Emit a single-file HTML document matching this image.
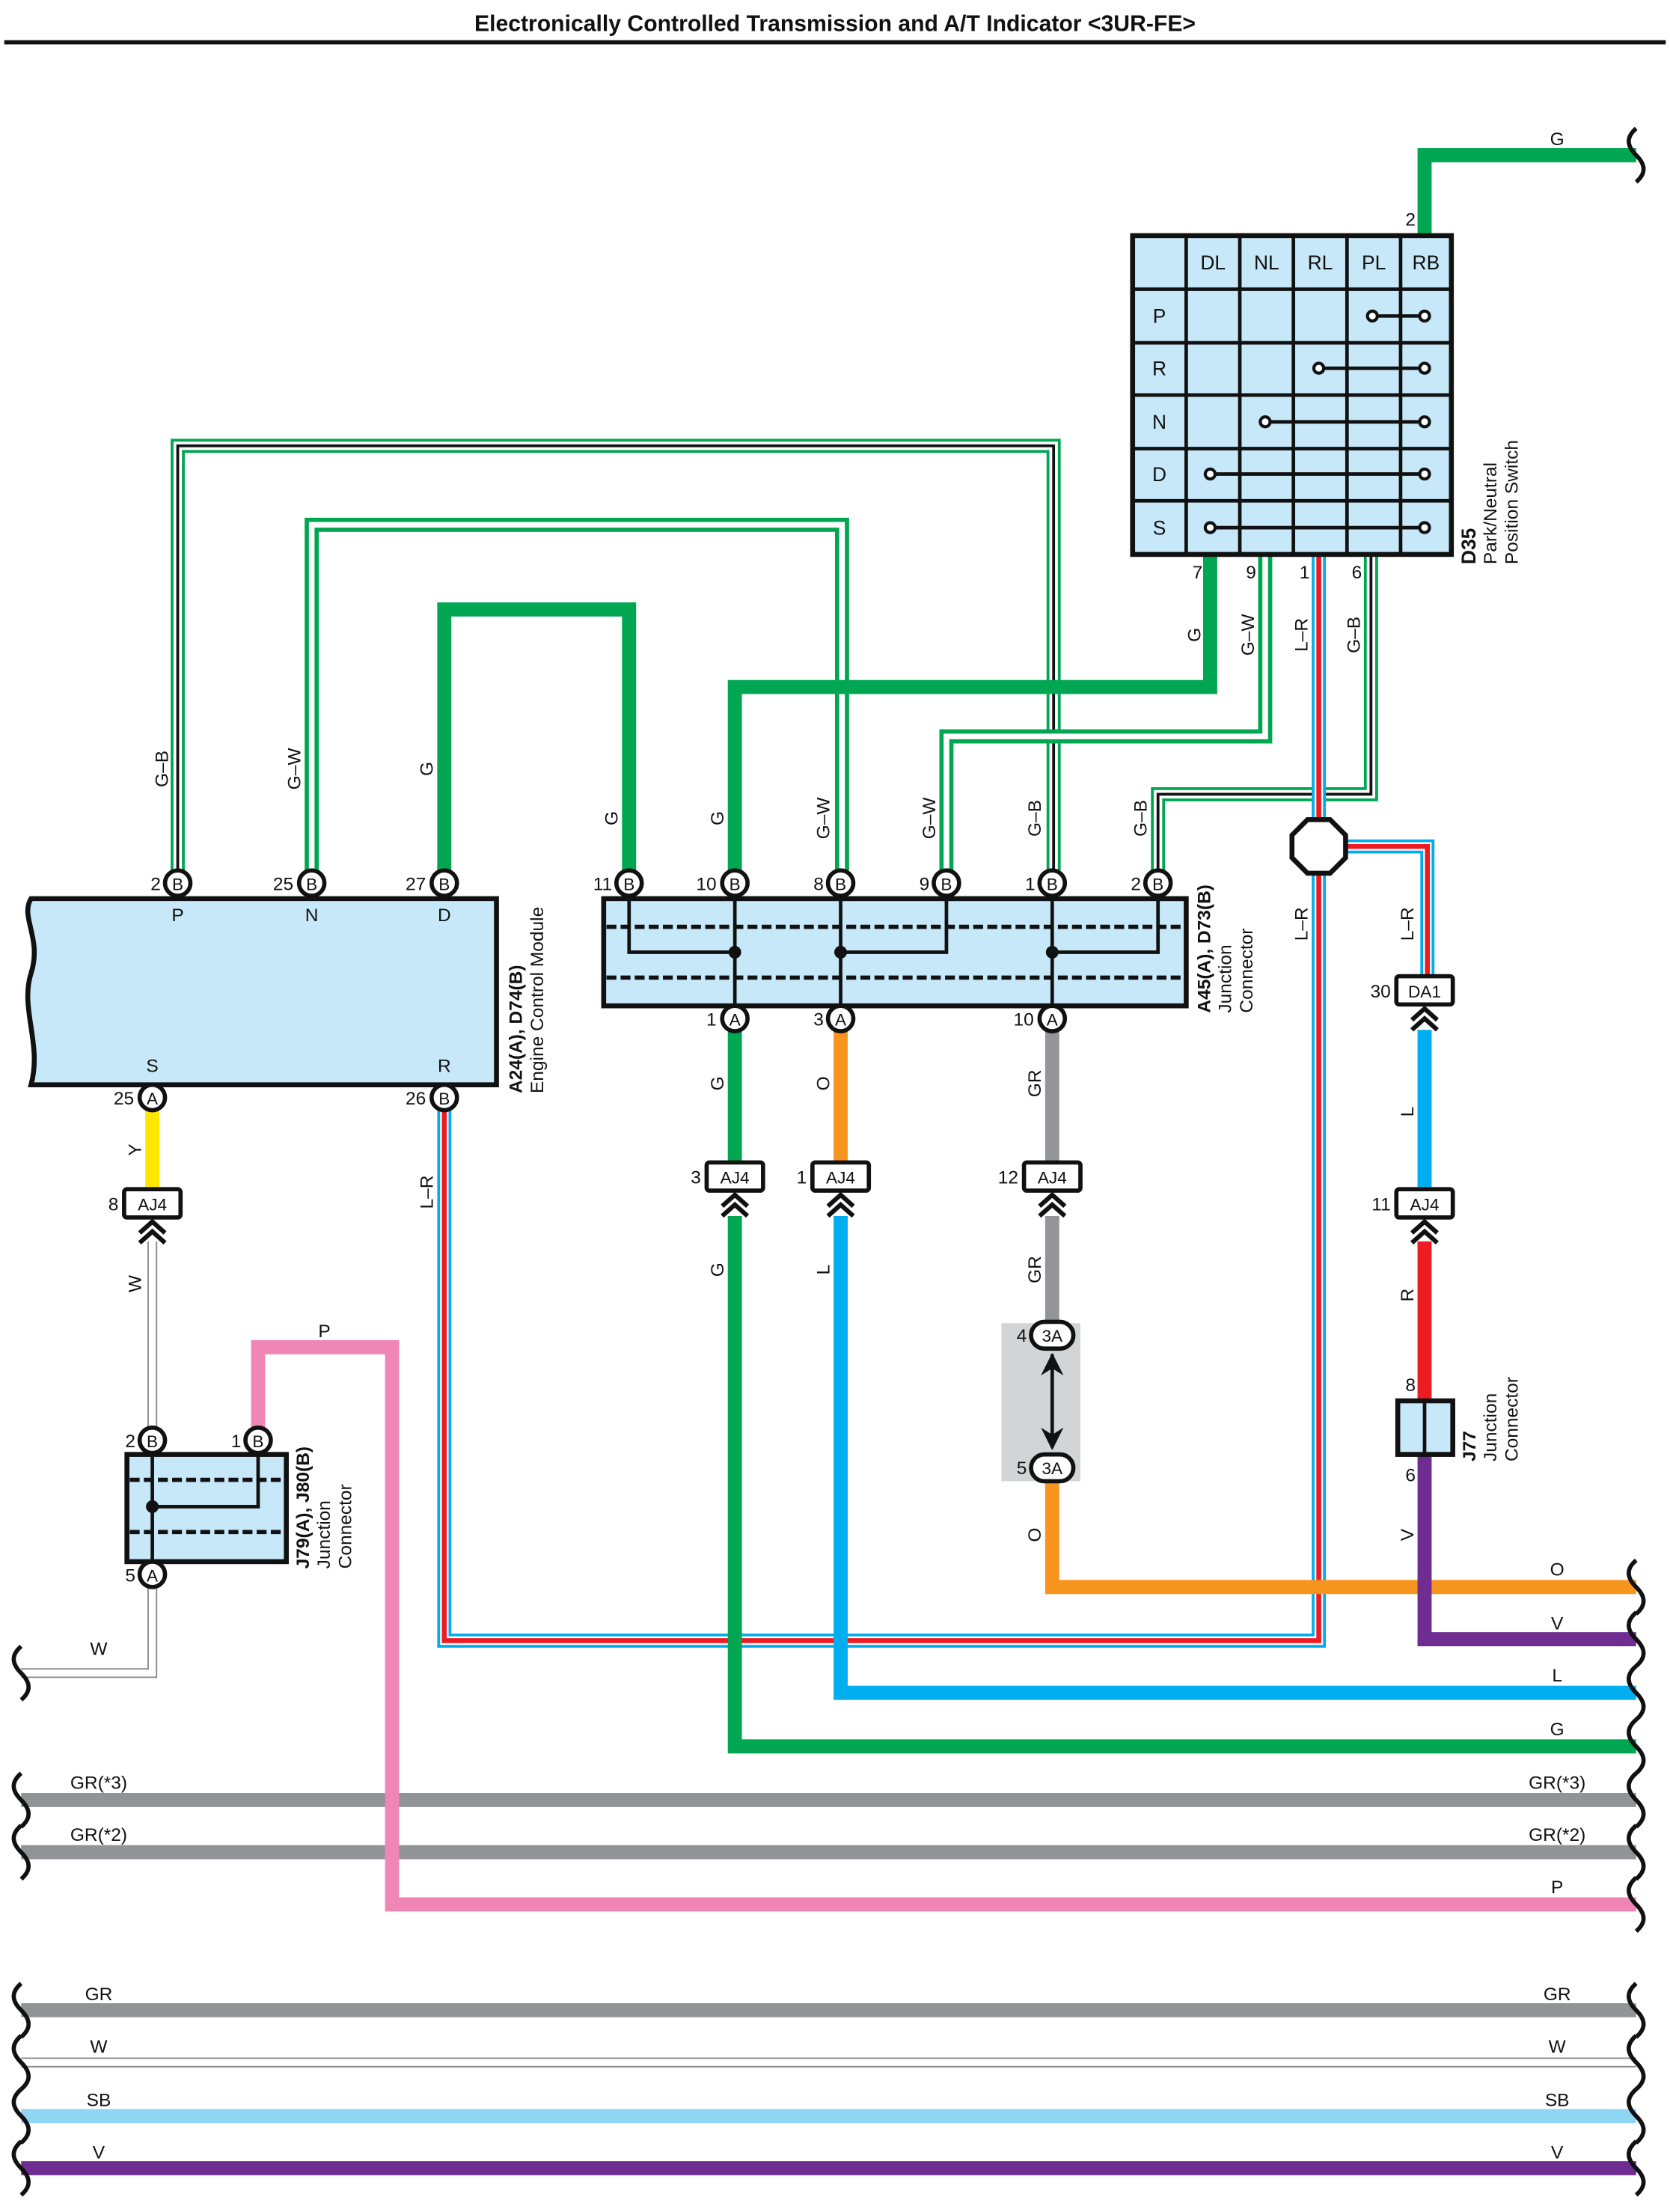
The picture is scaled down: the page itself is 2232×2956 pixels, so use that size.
<!DOCTYPE html>
<html><head><meta charset="utf-8"><style>
html,body{margin:0;padding:0;background:#fff}
svg{display:block}
text{font-family:"Liberation Sans",Arial,sans-serif;fill:#111}
</style></head><body>
<svg xmlns="http://www.w3.org/2000/svg" width="2232" height="2956" viewBox="0 0 1184 1568">
<defs>
<g id="wv"><path d="M0,-19 c-7,6 -7,12 0,19 c7,7 7,13 0,19" fill="none" stroke="#111" stroke-width="3"/></g>
<g id="chev"><path d="M-9,8 L0,0 L9,8 M-9,15 L0,7 L9,15" fill="none" stroke="#111" stroke-width="3.2"/></g>
</defs>
<rect width="1184" height="1568" fill="#fff"/>
<text x="592" y="22" font-size="16" font-weight="bold" text-anchor="middle">Electronically Controlled Transmission and A/T Indicator &lt;3UR-FE&gt;</text>
<line x1="3" y1="30" x2="1181" y2="30" stroke="#111" stroke-width="3"/>

<g fill="none" stroke-linejoin="miter" stroke-linecap="butt">
<!-- bottom buses -->
<path d="M15 1276H1160M15 1313H1160M15 1425H1160" stroke="#919396" stroke-width="10"/>
<path d="M15 1462H1160" stroke="#8a8a8a" stroke-width="7"/><path d="M15 1462H1160" stroke="#fff" stroke-width="5"/>
<path d="M15 1500H1160" stroke="#8fd6f4" stroke-width="10"/>
<path d="M15 1537H1160" stroke="#6f2c91" stroke-width="10"/>
<!-- pink -->
<path d="M183 1012V955H278V1350H1160" stroke="#ef86b6" stroke-width="10"/>
<!-- W thin -->
<path d="M108 880V1012M108 1125V1186H15" stroke="#8a8a8a" stroke-width="7"/>
<path d="M108 880V1012M108 1125V1186H15" stroke="#fff" stroke-width="5"/>
<!-- Y -->
<path d="M108 787V843" stroke="#ffe600" stroke-width="10"/>
<!-- G top -->
<path d="M1010 167V110H1160" stroke="#00a651" stroke-width="10"/>
<!-- G-B 1 -->
<path d="M126 617V316H747V617" stroke="#00a651" stroke-width="10"/>
<path d="M126 617V316H747V617" stroke="#fff" stroke-width="6"/>
<path d="M126 617V316H747V617" stroke="#111" stroke-width="2"/>
<!-- G-W 1 -->
<path d="M221 617V372H597V617" stroke="#00a651" stroke-width="10"/>
<path d="M221 617V372H597V617" stroke="#fff" stroke-width="4"/>
<!-- G 1 -->
<path d="M315 617V432H446V617" stroke="#00a651" stroke-width="10"/>
<!-- G 2 -->
<path d="M858 393V487H521V617" stroke="#00a651" stroke-width="10"/>
<!-- G-W 2 -->
<path d="M897 393V522H671V617" stroke="#00a651" stroke-width="10"/>
<path d="M897 393V522H671V617" stroke="#fff" stroke-width="4"/>
<!-- G-B 2 -->
<path d="M972 393V563H821V617" stroke="#00a651" stroke-width="10"/>
<path d="M972 393V563H821V617" stroke="#fff" stroke-width="6"/>
<path d="M972 393V563H821V617" stroke="#111" stroke-width="2"/>
<!-- L-R main -->
<path d="M935 393V1163H315V787" stroke="#00aeef" stroke-width="10"/>
<path d="M935 393V1163H315V787" stroke="#fff" stroke-width="6"/>
<path d="M935 393V1163H315V787" stroke="#ed1c24" stroke-width="3.5"/>
<path d="M950 600H1012V692" stroke="#00aeef" stroke-width="10"/>
<path d="M950 600H1012V692" stroke="#fff" stroke-width="6"/>
<path d="M950 600H1012V692" stroke="#ed1c24" stroke-width="3.5"/>
<!-- below junction -->
<path d="M521 731V824M521 862V1238H1160" stroke="#00a651" stroke-width="10"/>
<path d="M596 731V824" stroke="#f7941d" stroke-width="10"/>
<path d="M596 862V1200H1160" stroke="#00aeef" stroke-width="10"/>
<path d="M746 731V824M746 862V937" stroke="#939598" stroke-width="10"/>
<path d="M746 1050V1125H1160" stroke="#f7941d" stroke-width="10"/>
<path d="M1010 730V843" stroke="#00aeef" stroke-width="10"/>
<path d="M1010 880V993" stroke="#ed1c24" stroke-width="10"/>
<path d="M1010 1031V1162H1160" stroke="#6f2c91" stroke-width="10"/>
</g>

<!-- octagon splice -->
<polygon points="927,581 943,581 954,592 954,608 943,619 927,619 916,608 916,592" fill="#fff" stroke="#111" stroke-width="3.5"/>

<!-- wavy ends right -->
<g>
<use href="#wv" x="1160" y="110"/>
<use href="#wv" x="1160" y="1125"/><use href="#wv" x="1160" y="1162"/><use href="#wv" x="1160" y="1200"/><use href="#wv" x="1160" y="1238"/>
<use href="#wv" x="1160" y="1276"/><use href="#wv" x="1160" y="1313"/><use href="#wv" x="1160" y="1350"/>
<use href="#wv" x="1160" y="1425"/><use href="#wv" x="1160" y="1462"/><use href="#wv" x="1160" y="1500"/><use href="#wv" x="1160" y="1537"/>
<use href="#wv" x="15" y="1186"/><use href="#wv" x="15" y="1276"/><use href="#wv" x="15" y="1313"/>
<use href="#wv" x="15" y="1425"/><use href="#wv" x="15" y="1462"/><use href="#wv" x="15" y="1500"/><use href="#wv" x="15" y="1537"/>
</g>

<!-- switch table -->
<g>
<rect x="803" y="167" width="226" height="226" fill="#c7e8f8" stroke="#111" stroke-width="3.5"/>
<g stroke="#111" stroke-width="2.5">
<line x1="841" y1="167" x2="841" y2="393"/><line x1="879" y1="167" x2="879" y2="393"/><line x1="917" y1="167" x2="917" y2="393"/><line x1="955" y1="167" x2="955" y2="393"/><line x1="993" y1="167" x2="993" y2="393"/>
<line x1="803" y1="205" x2="1029" y2="205"/><line x1="803" y1="243" x2="1029" y2="243"/><line x1="803" y1="280" x2="1029" y2="280"/><line x1="803" y1="318" x2="1029" y2="318"/><line x1="803" y1="355" x2="1029" y2="355"/>
<line x1="973" y1="224" x2="1010" y2="224"/><line x1="935" y1="261" x2="1010" y2="261"/><line x1="897" y1="299" x2="1010" y2="299"/><line x1="858" y1="336" x2="1010" y2="336"/><line x1="858" y1="374" x2="1010" y2="374"/>
</g>
<g fill="#fff" stroke="#111" stroke-width="2.2">
<circle cx="973" cy="224" r="3.5"/><circle cx="1010" cy="224" r="3.5"/><circle cx="935" cy="261" r="3.5"/><circle cx="1010" cy="261" r="3.5"/><circle cx="897" cy="299" r="3.5"/><circle cx="1010" cy="299" r="3.5"/><circle cx="858" cy="336" r="3.5"/><circle cx="1010" cy="336" r="3.5"/><circle cx="858" cy="374" r="3.5"/><circle cx="1010" cy="374" r="3.5"/>
</g>
<g font-size="14" text-anchor="middle">
<text x="860" y="191">DL</text><text x="898" y="191">NL</text><text x="936" y="191">RL</text><text x="974" y="191">PL</text><text x="1011" y="191">RB</text>
<text x="822" y="229">P</text><text x="822" y="266">R</text><text x="822" y="304">N</text><text x="822" y="341">D</text><text x="822" y="379">S</text>
</g>
<g font-size="13" text-anchor="middle"><text x="1000" y="160">2</text><text x="849" y="410">7</text><text x="887" y="410">9</text><text x="925" y="410">1</text><text x="962" y="410">6</text></g>
<text transform="translate(1046,400) rotate(-90)" font-size="14" font-weight="bold">D35</text>
<text transform="translate(1061,400) rotate(-90)" font-size="13">Park/Neutral</text>
<text transform="translate(1076,400) rotate(-90)" font-size="13">Position Switch</text>
</g>

<!-- ECM -->
<path d="M22 637H352V769H22C30 740 14 715 22 690C30 665 14 650 22 637Z" fill="#c7e8f8" stroke="#111" stroke-width="3.5"/>
<g font-size="13" text-anchor="middle"><text x="126" y="653">P</text><text x="221" y="653">N</text><text x="315" y="653">D</text><text x="108" y="760">S</text><text x="315" y="760">R</text></g>
<text transform="translate(370,775) rotate(-90)" font-size="13" font-weight="bold">A24(A), D74(B)</text>
<text transform="translate(385,775) rotate(-90)" font-size="13">Engine Control Module</text>

<!-- Junction A45 -->
<rect x="428" y="637" width="413" height="76" fill="#c7e8f8" stroke="#111" stroke-width="3.5"/>
<g stroke="#111" stroke-width="3" stroke-dasharray="7,3"><line x1="430" y1="657" x2="839" y2="657"/><line x1="430" y1="693" x2="839" y2="693"/></g>
<g stroke="#111" stroke-width="2.5" fill="none">
<path d="M446 637V675H521M521 637V713M671 637V675H596M596 637V713M821 637V675H746M746 637V713"/>
</g>
<g fill="#111"><circle cx="521" cy="675" r="4.5"/><circle cx="596" cy="675" r="4.5"/><circle cx="746" cy="675" r="4.5"/></g>
<text transform="translate(858,718) rotate(-90)" font-size="13" font-weight="bold">A45(A), D73(B)</text>
<text transform="translate(873,718) rotate(-90)" font-size="13">Junction</text>
<text transform="translate(888,718) rotate(-90)" font-size="13">Connector</text>

<!-- J79 -->
<rect x="90" y="1031" width="113" height="76" fill="#c7e8f8" stroke="#111" stroke-width="3.5"/>
<g stroke="#111" stroke-width="3" stroke-dasharray="7,3"><line x1="92" y1="1049" x2="201" y2="1049"/><line x1="92" y1="1086" x2="201" y2="1086"/></g>
<path d="M108 1031V1107M183 1031V1068H108" stroke="#111" stroke-width="2.5" fill="none"/>
<circle cx="108" cy="1068" r="4.5" fill="#111"/>
<text transform="translate(219,1112) rotate(-90)" font-size="13" font-weight="bold">J79(A), J80(B)</text>
<text transform="translate(234,1112) rotate(-90)" font-size="13">Junction</text>
<text transform="translate(249,1112) rotate(-90)" font-size="13">Connector</text>

<!-- J77 -->
<rect x="991" y="993" width="39" height="38" fill="#c7e8f8" stroke="#111" stroke-width="3.5"/>
<line x1="1010" y1="993" x2="1010" y2="1031" stroke="#111" stroke-width="2.5"/>
<text x="1000" y="986" font-size="13" text-anchor="middle">8</text><text x="1000" y="1050" font-size="13" text-anchor="middle">6</text>
<text transform="translate(1046,1036) rotate(-90)" font-size="13" font-weight="bold">J77</text>
<text transform="translate(1061,1036) rotate(-90)" font-size="13">Junction</text>
<text transform="translate(1076,1036) rotate(-90)" font-size="13">Connector</text>

<!-- 3A grey box -->
<rect x="710" y="938" width="56" height="112" fill="#d3d4d6"/>
<path d="M746 960V1026" stroke="#111" stroke-width="2.5"/>
<path d="M738 975L746 959L754 975L746 970Z M738 1012L746 1028L754 1012L746 1017Z" fill="#111"/>
<g fill="#fff" stroke="#111" stroke-width="3"><rect x="731" y="937" width="30" height="19" rx="9.5"/><rect x="731" y="1031" width="30" height="19" rx="9.5"/></g>
<g font-size="12" text-anchor="middle"><text x="746" y="951">3A</text><text x="746" y="1045">3A</text></g>
<g font-size="13" text-anchor="end"><text x="728" y="951">4</text><text x="728" y="1045">5</text></g>

<!-- pins -->
<g fill="#fff" stroke="#111" stroke-width="3">
<circle cx="126" cy="626" r="9"/><circle cx="221" cy="626" r="9"/><circle cx="315" cy="626" r="9"/>
<circle cx="108" cy="778" r="9"/><circle cx="315" cy="778" r="9"/>
<circle cx="446" cy="626" r="9"/><circle cx="521" cy="626" r="9"/><circle cx="596" cy="626" r="9"/><circle cx="671" cy="626" r="9"/><circle cx="746" cy="626" r="9"/><circle cx="821" cy="626" r="9"/>
<circle cx="521" cy="722" r="9"/><circle cx="596" cy="722" r="9"/><circle cx="746" cy="722" r="9"/>
<circle cx="108" cy="1021" r="9"/><circle cx="183" cy="1021" r="9"/><circle cx="108" cy="1116" r="9"/>
</g>
<g font-size="12" text-anchor="middle">
<text x="126" y="631">B</text><text x="221" y="631">B</text><text x="315" y="631">B</text>
<text x="108" y="783">A</text><text x="315" y="783">B</text>
<text x="446" y="631">B</text><text x="521" y="631">B</text><text x="596" y="631">B</text><text x="671" y="631">B</text><text x="746" y="631">B</text><text x="821" y="631">B</text>
<text x="521" y="727">A</text><text x="596" y="727">A</text><text x="746" y="727">A</text>
<text x="108" y="1026">B</text><text x="183" y="1026">B</text><text x="108" y="1121">A</text>
</g>
<g font-size="13" text-anchor="end">
<text x="114" y="631">2</text><text x="208" y="631">25</text><text x="302" y="631">27</text>
<text x="95" y="783">25</text><text x="302" y="783">26</text>
<text x="434" y="631">11</text><text x="508" y="631">10</text><text x="584" y="631">8</text><text x="659" y="631">9</text><text x="734" y="631">1</text><text x="809" y="631">2</text>
<text x="508" y="727">1</text><text x="584" y="727">3</text><text x="733" y="727">10</text>
<text x="96" y="1026">2</text><text x="171" y="1026">1</text><text x="96" y="1121">5</text>
</g>

<!-- AJ4 / DA1 connectors -->
<g fill="#fff" stroke="#111" stroke-width="3">
<rect x="501" y="824" width="40" height="20" rx="2"/><rect x="576" y="824" width="40" height="20" rx="2"/><rect x="726" y="824" width="40" height="20" rx="2"/>
<rect x="88" y="843" width="40" height="20" rx="2"/><rect x="990" y="843" width="40" height="20" rx="2"/><rect x="990" y="692" width="40" height="20" rx="2"/>
</g>
<use href="#chev" x="521" y="847"/><use href="#chev" x="596" y="847"/><use href="#chev" x="746" y="847"/>
<use href="#chev" x="108" y="866"/><use href="#chev" x="1010" y="866"/><use href="#chev" x="1010" y="715"/>
<g font-size="12" text-anchor="middle">
<text x="521" y="839">AJ4</text><text x="596" y="839">AJ4</text><text x="746" y="839">AJ4</text>
<text x="108" y="858">AJ4</text><text x="1010" y="858">AJ4</text><text x="1010" y="707">DA1</text>
</g>
<g font-size="13" text-anchor="end">
<text x="497" y="839">3</text><text x="572" y="839">1</text><text x="722" y="839">12</text>
<text x="84" y="858">8</text><text x="986" y="858">11</text><text x="986" y="707">30</text>
</g>

<!-- wire labels vertical -->
<g font-size="13" text-anchor="middle">
<text transform="translate(119,545) rotate(-90)">G–B</text>
<text transform="translate(213,545) rotate(-90)">G–W</text>
<text transform="translate(307,545) rotate(-90)">G</text>
<text transform="translate(438,580) rotate(-90)">G</text>
<text transform="translate(513,580) rotate(-90)">G</text>
<text transform="translate(588,580) rotate(-90)">G–W</text>
<text transform="translate(663,580) rotate(-90)">G–W</text>
<text transform="translate(738,580) rotate(-90)">G–B</text>
<text transform="translate(813,580) rotate(-90)">G–B</text>
<text transform="translate(851,450) rotate(-90)">G</text>
<text transform="translate(889,450) rotate(-90)">G–W</text>
<text transform="translate(927,450) rotate(-90)">L–R</text>
<text transform="translate(964,450) rotate(-90)">G–B</text>
<text transform="translate(927,655) rotate(-90)">L–R</text>
<text transform="translate(1002,655) rotate(-90)">L–R</text>
<text transform="translate(100,815) rotate(-90)">Y</text>
<text transform="translate(307,845) rotate(-90)">L–R</text>
<text transform="translate(513,768) rotate(-90)">G</text>
<text transform="translate(588,768) rotate(-90)">O</text>
<text transform="translate(738,768) rotate(-90)">GR</text>
<text transform="translate(100,910) rotate(-90)">W</text>
<text transform="translate(513,900) rotate(-90)">G</text>
<text transform="translate(588,900) rotate(-90)">L</text>
<text transform="translate(738,900) rotate(-90)">GR</text>
<text transform="translate(738,1088) rotate(-90)">O</text>
<text transform="translate(1002,788) rotate(-90)">L</text>
<text transform="translate(1002,918) rotate(-90)">R</text>
<text transform="translate(1002,1088) rotate(-90)">V</text>
</g>
<!-- horizontal labels -->
<g font-size="13" text-anchor="middle">
<text x="1104" y="103">G</text>
<text x="230" y="948">P</text>
<text x="70" y="1173">W</text>
<text x="1104" y="1117">O</text><text x="1104" y="1155">V</text><text x="1104" y="1192">L</text><text x="1104" y="1230">G</text>
<text x="70" y="1268">GR(*3)</text><text x="1104" y="1268">GR(*3)</text>
<text x="70" y="1305">GR(*2)</text><text x="1104" y="1305">GR(*2)</text>
<text x="1104" y="1342">P</text>
<text x="70" y="1418">GR</text><text x="1104" y="1418">GR</text>
<text x="70" y="1455">W</text><text x="1104" y="1455">W</text>
<text x="70" y="1493">SB</text><text x="1104" y="1493">SB</text>
<text x="70" y="1530">V</text><text x="1104" y="1530">V</text>
</g>
</svg>
</body></html>
